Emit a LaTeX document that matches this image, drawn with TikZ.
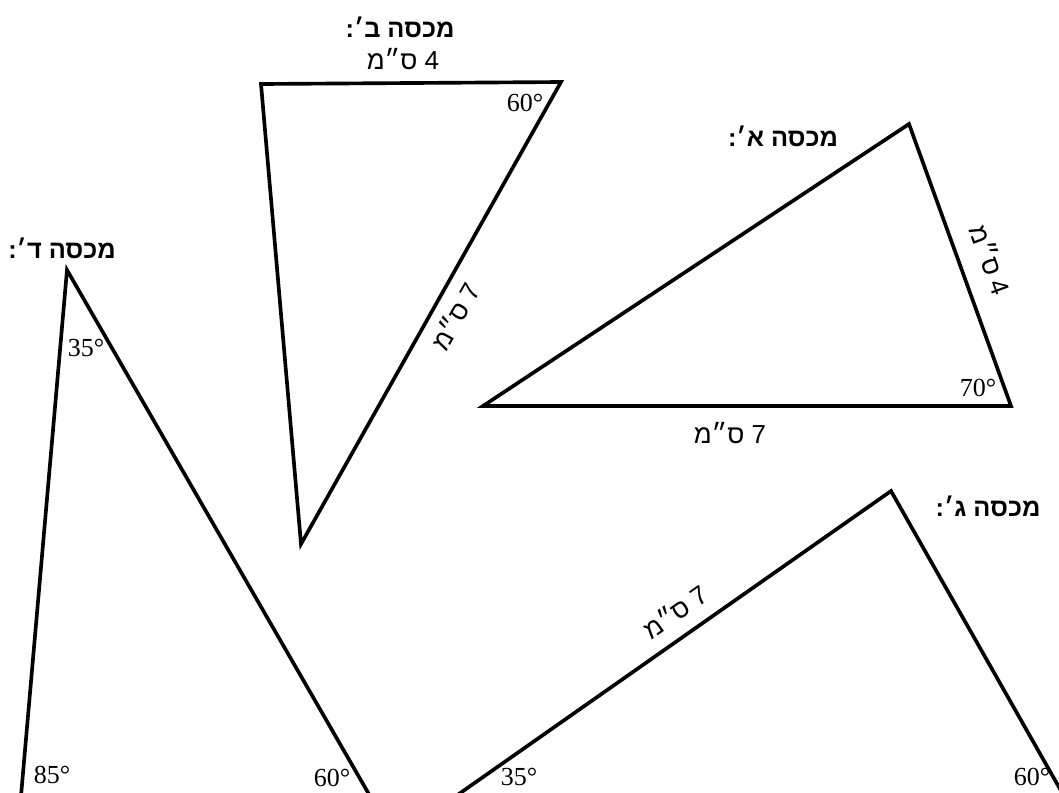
\documentclass[tikz,border=0pt]{standalone}
\usepackage{fontspec}
\setmainfont{Liberation Serif}
\newfontfamily\hebfont[Script=Hebrew]{Liberation Sans}
\TeXXeTstate=1
\newcommand{\hebtext}[1]{\beginR #1\endR}

\begin{document}
\begin{tikzpicture}[x=0.025cm, y=-0.025cm,
  side/.style={line width=2.6pt, line join=miter},
  deg/.style={font=\fontsize{18.5}{20}\selectfont, inner sep=0pt},
  len/.style={font=\fontsize{18.5}{20}\selectfont\hebfont, inner sep=0pt},
  lid/.style={font=\fontsize{18}{20}\selectfont\hebfont\bfseries, inner sep=0pt}]
  \useasboundingbox (0,0) rectangle (1059,792);
  \clip (0,0) rectangle (1059,792);

  % lid A
  \coordinate (A1) at (483,406);
  \coordinate (A2) at (909,124);
  \coordinate (A3) at (1011,406);
  \draw[side] (A1) -- (A2) -- (A3) -- cycle;
  \node[lid] (titleA) at (783,136) {\hebtext{מכסה א׳:}};
  \node[deg] (degA) at (978,388) {70°};
  \node[len] (baseA) at (730,433) {\hebtext{7 ס״מ}};
  \node[len, rotate=-70] (sideA) at (991,260) {\hebtext{4 ס״מ}};

  % lid B
  \coordinate (B1) at (261,84);
  \coordinate (B2) at (561,82);
  \coordinate (B3) at (301,544);
  \draw[side] (B1) -- (B2) -- (B3) -- cycle;
  \node[lid] (titleB) at (400,27) {\hebtext{מכסה ב׳:}};
  \node[len] (topB) at (403,59) {\hebtext{4 ס״מ}};
  \node[deg] (degB) at (525,103) {60°};
  \node[len, rotate=60.6] (sideB) at (455,316) {\hebtext{7 ס״מ}};

  % lid C
  \coordinate (C1) at (891,491);
  \coordinate (C2) at (456,796);
  \coordinate (C3) at (1064,796);
  \draw[side] (C1) -- (C2) -- (C3) -- cycle;
  \node[lid] (titleC) at (988,506) {\hebtext{מכסה ג׳:}};
  \node[len, rotate=35] (sideC) at (675,611) {\hebtext{7 ס״מ}};
  \node[deg] (degC1) at (519,777) {35°};
  \node[deg] (degC2) at (1032,777) {60°};

  % lid D
  \coordinate (D1) at (67,270);
  \coordinate (D2) at (21,796);
  \coordinate (D3) at (370,796);
  \draw[side] (D1) -- (D2) -- (D3) -- cycle;
  \node[lid] (titleD) at (62,248) {\hebtext{מכסה ד׳:}};
  \node[deg] (degD1) at (86,348) {35°};
  \node[deg] (degD2) at (52,775) {85°};
  \node[deg] (degD3) at (332,778) {60°};
\end{tikzpicture}
\end{document}
